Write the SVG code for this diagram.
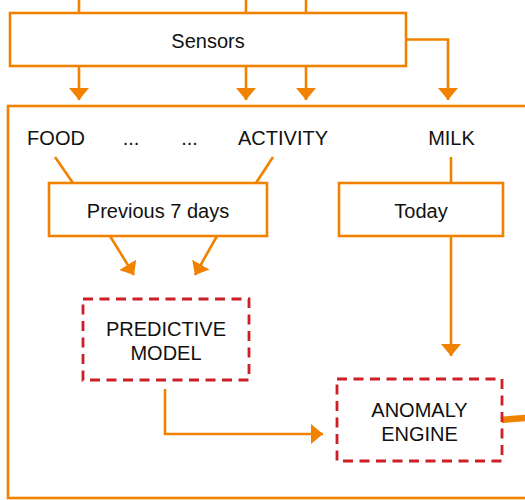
<svg xmlns="http://www.w3.org/2000/svg" width="525" height="500" viewBox="0 0 525 500">
  <style>
    .box { fill: #ffffff; stroke: #F08200; stroke-width: 2.6; }
    .model { fill: #ffffff; stroke: #CC1F26; stroke-width: 2.8; stroke-dasharray: 10 6.5; }
    .wire { fill: none; stroke: #F08200; stroke-width: 2.6; }
    .label { font-family: "Liberation Sans", Arial, sans-serif; font-size: 20px; fill: #111111; text-anchor: middle; }
  </style>
  <defs>
    <marker id="arrow" markerUnits="userSpaceOnUse" markerWidth="12" markerHeight="20" viewBox="0 0 12 20" refX="12" refY="10" orient="auto">
      <path d="M0,0 L12,10 L0,20 Z" fill="#F08200"/>
    </marker>
  </defs>

  <!-- outer processing frame -->
  <rect id="frame" x="8" y="106" width="540" height="392" fill="none" stroke="#F08200" stroke-width="2.6"/>

  <g id="connectors">
    <!-- feeds into the sensor block -->
    <line class="wire" x1="79" y1="0" x2="79" y2="13"/>
    <line class="wire" x1="246" y1="0" x2="246" y2="13"/>
    <line class="wire" x1="306" y1="0" x2="306" y2="13"/>
    <!-- sensor outputs -->
    <line class="wire" x1="79" y1="66" x2="79" y2="100" marker-end="url(#arrow)"/>
    <line class="wire" x1="246" y1="66" x2="246" y2="100" marker-end="url(#arrow)"/>
    <line class="wire" x1="306" y1="66" x2="306" y2="100" marker-end="url(#arrow)"/>
    <polyline class="wire" points="406,39.5 448,39.5 448,100" marker-end="url(#arrow)"/>
    <!-- signals into the history window -->
    <line class="wire" x1="55" y1="157" x2="73" y2="183"/>
    <line class="wire" x1="273" y1="157" x2="256" y2="183"/>
    <line class="wire" x1="451" y1="157" x2="451" y2="183"/>
    <!-- history window into the model -->
    <line class="wire" x1="110" y1="236" x2="134" y2="275" marker-end="url(#arrow)"/>
    <line class="wire" x1="217" y1="236" x2="195" y2="275" marker-end="url(#arrow)"/>
    <!-- today's reading into the engine -->
    <line class="wire" x1="451" y1="236" x2="451" y2="356" marker-end="url(#arrow)"/>
    <!-- model prediction into the engine -->
    <polyline class="wire" points="165,389 165,434 323,434" marker-end="url(#arrow)"/>
    <!-- engine output -->
    <line x1="500" y1="420" x2="530" y2="417.5" stroke="#F08200" stroke-width="6.5"/>
  </g>

  <g id="sensors">
    <rect class="box" x="10" y="13" width="396" height="53"/>
    <text class="label" x="208" y="48">Sensors</text>
  </g>

  <g id="signals">
    <text class="label" x="56" y="145">FOOD</text>
    <text class="label" x="131" y="145">...</text>
    <text class="label" x="189.5" y="145">...</text>
    <text class="label" x="283" y="145">ACTIVITY</text>
    <text class="label" x="451.5" y="145">MILK</text>
  </g>

  <g id="previous-days">
    <rect class="box" x="49" y="183" width="218" height="53"/>
    <text class="label" x="158" y="218">Previous 7 days</text>
  </g>

  <g id="today">
    <rect class="box" x="339" y="183" width="164" height="53"/>
    <text class="label" x="421" y="218">Today</text>
  </g>

  <g id="predictive-model">
    <rect class="model" x="83" y="299" width="166" height="81"/>
    <text class="label" x="166" y="336">PREDICTIVE</text>
    <text class="label" x="166" y="360">MODEL</text>
  </g>

  <g id="anomaly-engine">
    <rect class="model" x="337" y="379" width="165" height="82"/>
    <text class="label" x="419.5" y="417">ANOMALY</text>
    <text class="label" x="419.5" y="441">ENGINE</text>
  </g>
</svg>
